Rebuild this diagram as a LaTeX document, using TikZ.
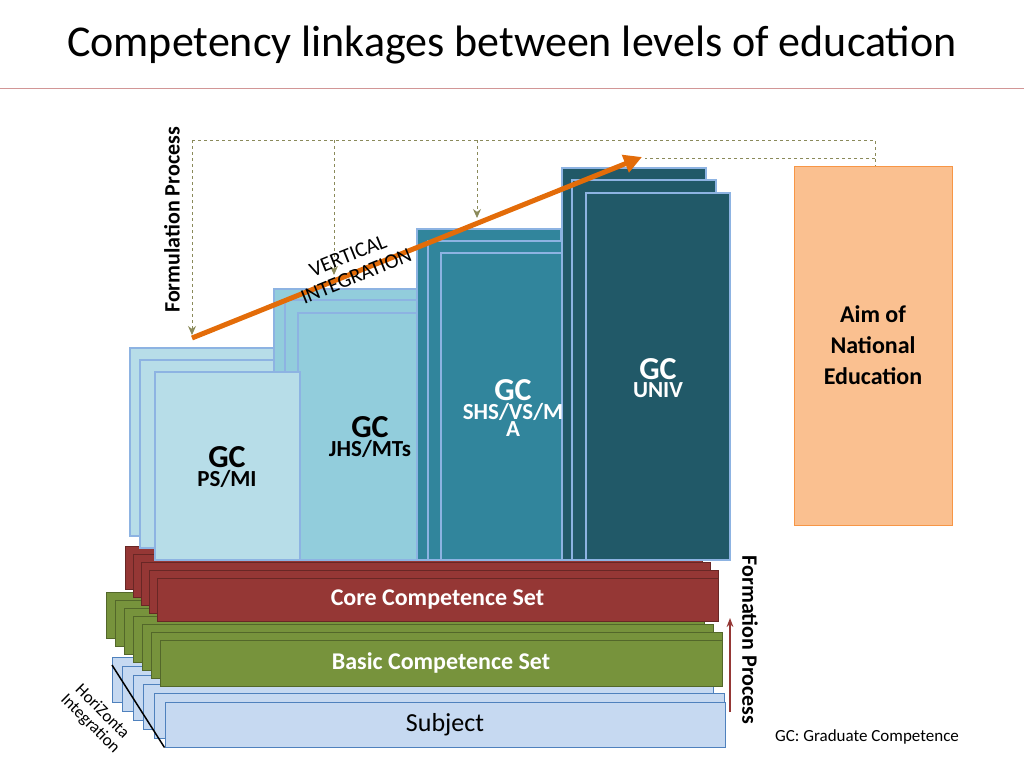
\documentclass[tikz,border=0pt]{standalone}
\usepackage{fontspec}
\usetikzlibrary{arrows.meta}
\setmainfont{Carlito}
\definecolor{c1}{HTML}{B7DDE8}\definecolor{c2}{HTML}{92CDDC}
\definecolor{c3}{HTML}{31859C}\definecolor{c4}{HTML}{215968}
\definecolor{bd}{HTML}{8DB3E2}\definecolor{ornge}{HTML}{E36C09}
\definecolor{redc}{HTML}{953735}\definecolor{grn}{HTML}{77933C}
\definecolor{subj}{HTML}{C6D9F1}\definecolor{subjb}{HTML}{4F81BD}
\definecolor{dsh}{HTML}{8A8A5A}
\begin{document}
\begin{tikzpicture}[x=1pt,y=-1pt,
 dl/.style={draw=dsh,dashed,line width=0.8pt},
 dla/.style={dl,-{Stealth[length=9pt,width=8pt]}}]
\useasboundingbox (0,0) rectangle (1024,768);
\node (title) at (512,45) {\fontsize{44}{48}\selectfont Competency linkages between levels of education};
\draw[color={rgb,255:red,210;green,150;blue,150},line width=0.8pt] (0,88) -- (1024,88);
\node[rotate=90,font=\bfseries\fontsize{22}{24}\selectfont] (fp) at (172,220) {Formulation Process};
% layers (back to front)
\foreach \i in {5,4,3,2,1}{\fill[subj,draw=subjb,line width=1pt] (165-10.6*\i,702-9*\i) rectangle (725-10.6*\i+10,747-9*\i);}
\node[fill=subj,draw=subjb,line width=1pt,minimum width=560pt,minimum height=45pt,inner sep=0,font=\fontsize{26}{28}\selectfont] (subj) at (445,724.5) {Subject};
\draw[line width=1.5pt] (112,665) -- (subj.south west);
\foreach \i in {6,5,4,3,2,1}{\fill[grn,draw=grn!70!black,line width=1pt] (160-9*\i,640-8*\i) rectangle (722-9*\i+9,686-8*\i);}
\node[fill=grn,draw=grn!70!black,line width=1pt,minimum width=562pt,minimum height=46pt,inner sep=0,text=white,font=\bfseries\fontsize{24}{26}\selectfont] (basic) at (441,663) {Basic Competence Set};
\foreach \i in {4,3,2,1}{\fill[redc,draw=redc!70!black,line width=1pt] (157-8*\i,578-8*\i) rectangle (718-8*\i+8,621-8*\i);}
\node[fill=redc,draw=redc!70!black,line width=1pt,minimum width=561pt,minimum height=43pt,inner sep=0,text=white,font=\bfseries\fontsize{24}{26}\selectfont] (core) at (437.5,599.5) {Core Competence Set};
% GC stacks
\foreach \xa/\ya/\col in {130/348/c1,140/360/c1}{\fill[\col,draw=bd,line width=1.5pt] (\xa,\ya) rectangle ++(145,188);}
\foreach \xa/\ya/\col in {274/289/c2,285/300/c2,298/313/c2}{\fill[\col,draw=bd,line width=1.5pt] (\xa,\ya) rectangle (\xa+145,560);}
\foreach \xa/\ya/\col in {417/229/c3,428/241/c3,441/253/c3}{\fill[\col,draw=bd,line width=1.5pt] (\xa,\ya) rectangle (\xa+144,560);}
\foreach \xa/\ya/\col in {562/168/c4,572/180/c4,586/193/c4}{\fill[\col,draw=bd,line width=1.5pt] (\xa,\ya) rectangle (\xa+144,560);}
\fill[c1,draw=bd,line width=1.5pt] (155,372) rectangle (300,560);
\node[align=center,font=\bfseries] (g1) at (227,467) {\fontsize{32}{34}\selectfont GC\\[2pt]\fontsize{23}{25}\selectfont PS/MI};
\node[align=center,font=\bfseries] (g2) at (370,437) {\fontsize{32}{34}\selectfont GC\\[2pt]\fontsize{23}{25}\selectfont JHS/MTs};
\node[align=center,font=\bfseries,text=white] (g3) at (513,408) {\fontsize{32}{34}\selectfont GC\\[2pt]\fontsize{23}{25}\selectfont SHS/VS/M\\\fontsize{23}{25}\selectfont A};
\node[align=center,font=\bfseries,text=white] (g4) at (658,378) {\fontsize{32}{34}\selectfont GC\\[2pt]\fontsize{23}{25}\selectfont UNIV};
% Aim
\node[draw={rgb,255:red,247;green,150;blue,70},fill={rgb,255:red,250;green,192;blue,144},minimum width=158pt,minimum height=359pt,inner sep=0,align=center,font=\bfseries\fontsize{24}{31}\selectfont] (aim) at (873,345.5) {Aim of\\National\\Education};
% dashed
\coordinate (d1) at (192,140);\coordinate (d2) at (875,140);
\coordinate (t1) at (192,335);\coordinate (t2) at (334,275);\coordinate (t3) at (477,218);
\draw[dl] (d1) -- (d2) -- (aim.north -| d2);
\draw[dla] (d1) -- (t1);
\draw[dla] (334,140) -- (t2);
\draw[dla] (477,140) -- (t3);
\draw[dl] (875,158) -- (645,158);
% orange arrow
\coordinate (o1) at (192,338);\coordinate (o2) at (642,157);
\draw[ornge,line width=5pt,-{Triangle[length=18pt,width=18pt]}] (o1) -- (o2);
\node[rotate=22,align=center,font=\fontsize{21}{22}\selectfont] (vi) at (352,266) {VERTICAL\\INTEGRATION};
\node[rotate=-45,align=center,font=\fontsize{17}{17}\selectfont] (hi) at (96,718) {HoriZonta\\Integration};
\node[rotate=-90,font=\bfseries\fontsize{22}{24}\selectfont] (fpr) at (750,640) {Formation Process};
\draw[redc,line width=1.5pt,-{Stealth[length=9pt]}] (730,712) -- (730,618);
\node[font=\fontsize{17}{19}\selectfont] (leg) at (867,737) {GC: Graduate Competence};
\end{tikzpicture}
\end{document}
